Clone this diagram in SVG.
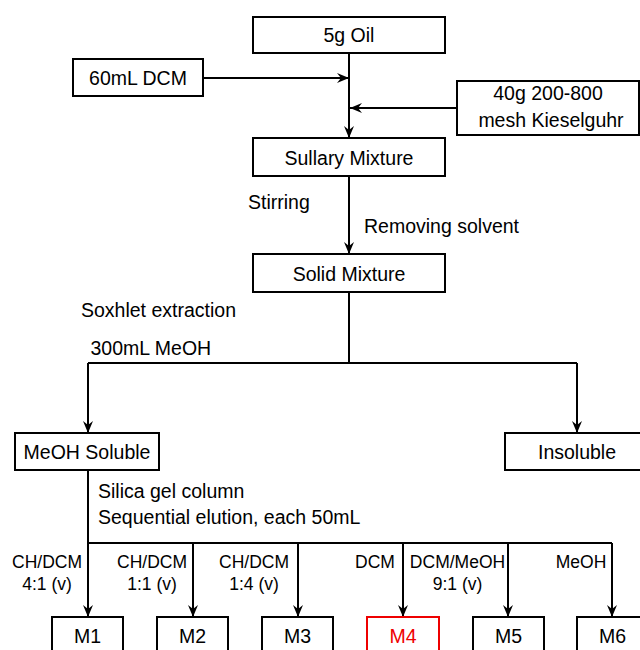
<svg xmlns="http://www.w3.org/2000/svg" width="640" height="650" viewBox="0 0 640 650">
<style>
text{font-family:"Liberation Sans",Arial,sans-serif;font-size:19.5px;fill:#000}
.c{text-anchor:middle}
.s{font-size:17.5px}
.box{fill:#fff;stroke:#000;stroke-width:2}
.red rect{stroke:#e00}
.red text{fill:#e00}
.ln{fill:none;stroke:#000;stroke-width:2}
</style>
<defs>
<marker id="ah" markerUnits="userSpaceOnUse" viewBox="0 0 12 10" refX="12" refY="5" markerWidth="12" markerHeight="10" orient="auto">
<path d="M0,0 L12,5 L0,10 L4,5 z" fill="#000"/>
</marker>
</defs>
<rect width="640" height="650" fill="#fff"/>
<g id="connectors">
<path class="ln" d="M349,53 V138" marker-end="url(#ah)"/>
<path class="ln" d="M203,78 H349" marker-end="url(#ah)"/>
<path class="ln" d="M457,108 H350" marker-end="url(#ah)"/>
<path class="ln" d="M349,176 V254" marker-end="url(#ah)"/>
<path class="ln" d="M349,292 V363"/>
<path class="ln" d="M88,363 H577"/>
<path class="ln" d="M88,363 V433" marker-end="url(#ah)"/>
<path class="ln" d="M577,363 V433" marker-end="url(#ah)"/>
<path class="ln" d="M88,470 V543 H612"/>
<path class="ln" d="M88,543 V617" marker-end="url(#ah)"/>
<path class="ln" d="M193,543 V617" marker-end="url(#ah)"/>
<path class="ln" d="M298,543 V617" marker-end="url(#ah)"/>
<path class="ln" d="M403,543 V617" marker-end="url(#ah)"/>
<path class="ln" d="M508,543 V617" marker-end="url(#ah)"/>
<path class="ln" d="M612,543 V617" marker-end="url(#ah)"/>
<text x="248" y="208.5">Stirring</text>
<text x="364" y="233">Removing solvent</text>
<text x="81" y="316.5">Soxhlet extraction</text>
<text x="90.5" y="355">300mL MeOH</text>
<text x="98" y="498">Silica gel column</text>
<text x="98" y="523.5">Sequential elution, each 50mL</text>
<text class="c s" x="47" y="568">CH/DCM</text>
<text class="c s" x="47" y="590">4:1 (v)</text>
<text class="c s" x="152" y="568">CH/DCM</text>
<text class="c s" x="152" y="590">1:1 (v)</text>
<text class="c s" x="254" y="568">CH/DCM</text>
<text class="c s" x="254" y="590">1:4 (v)</text>
<text class="c s" x="375" y="568">DCM</text>
<text class="c s" x="457.5" y="568">DCM/MeOH</text>
<text class="c s" x="457.5" y="590">9:1 (v)</text>
<text class="c s" x="581" y="568">MeOH</text>
</g>
<g id="oil"><rect class="box" x="253" y="17" width="192" height="36"/><text class="c" x="349" y="42">5g Oil</text></g>
<g id="dcm"><rect class="box" x="73" y="59" width="130" height="37"/><text class="c" x="138" y="85">60mL DCM</text></g>
<g id="kieselguhr"><rect class="box" x="457" y="81" width="182" height="54"/><text class="c" x="548" y="100">40g 200-800</text><text class="c" x="551" y="126.5">mesh Kieselguhr</text></g>
<g id="sullary"><rect class="box" x="253" y="138" width="192" height="38"/><text class="c" x="349" y="165">Sullary Mixture</text></g>
<g id="solid"><rect class="box" x="253" y="254" width="192" height="38"/><text class="c" x="349" y="281">Solid Mixture</text></g>
<g id="meoh-soluble"><rect class="box" x="15" y="433" width="144" height="37"/><text class="c" x="87" y="459">MeOH Soluble</text></g>
<g id="insoluble"><rect class="box" x="505" y="433" width="145" height="37"/><text class="c" x="577" y="459">Insoluble</text></g>
<g id="m1"><rect class="box" x="52" y="617" width="71" height="45"/><text class="c" x="87.5" y="643">M1</text></g>
<g id="m2"><rect class="box" x="157" y="617" width="71" height="45"/><text class="c" x="192.5" y="643">M2</text></g>
<g id="m3"><rect class="box" x="262" y="617" width="71" height="45"/><text class="c" x="297.5" y="643">M3</text></g>
<g id="m4" class="red"><rect class="box" x="367" y="617" width="72" height="45"/><text class="c" x="403" y="643">M4</text></g>
<g id="m5"><rect class="box" x="473" y="617" width="71" height="45"/><text class="c" x="508.5" y="643">M5</text></g>
<g id="m6"><rect class="box" x="577" y="617" width="71" height="45"/><text class="c" x="612.5" y="643">M6</text></g>
</svg>
